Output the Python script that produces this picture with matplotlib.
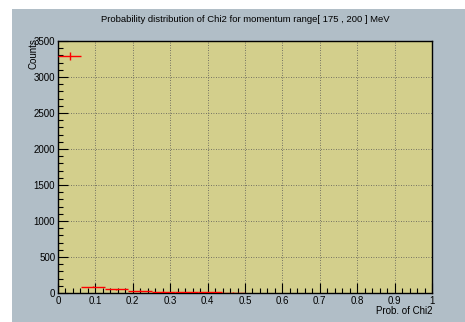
import numpy as np
import matplotlib
matplotlib.use("Agg")
import matplotlib.pyplot as plt
from matplotlib.patches import Rectangle
from matplotlib.ticker import MultipleLocator

plt.rcParams['font.family'] = ['Liberation Sans', 'DejaVu Sans']

# histogram: 16 bins on [0, 1]
bin_edges = np.linspace(0, 1, 17)
counts = [3290, 88, 52, 34, 20, 13, 9, 6, 0, 0, 0, 0, 0, 0, 0, 0]

TITLE = "Probability distribution of Chi2 for momentum range[ 175 , 200 ] MeV"
XLABEL = "Prob. of Chi2"
YLABEL = "Counts"

fig = plt.figure(figsize=(4.65, 3.22), dpi=100, facecolor='white')
# ROOT-like canvas background (behind the axes)
fig.patches.append(Rectangle((12 / 465, 0), 1 - 12 / 465, 1 - 9 / 322,
                             transform=fig.transFigure, facecolor='#b1bec7',
                             edgecolor='none', zorder=-10))

ax = fig.add_axes([58 / 465, 1 - 293 / 322, (432 - 58) / 465, (293 - 41) / 322])
ax.set_facecolor('#d3cf8c')

counts = np.asarray(counts, dtype=float)
centers = 0.5 * (bin_edges[:-1] + bin_edges[1:])
half = 0.5 * np.diff(bin_edges)
nz = counts > 0
ax.errorbar(centers[nz], counts[nz], xerr=half[nz], yerr=np.sqrt(counts[nz]),
            fmt='none', ecolor='red', elinewidth=1.0, capsize=0, zorder=3)

ax.set_xlim(0, 1)
ax.set_ylim(0, 3500)
ax.xaxis.set_major_locator(MultipleLocator(0.1))
ax.xaxis.set_minor_locator(MultipleLocator(0.02))
ax.yaxis.set_major_locator(MultipleLocator(500))
ax.yaxis.set_minor_locator(MultipleLocator(100))
ax.xaxis.set_major_formatter(plt.FuncFormatter(lambda v, p: f"{v:g}"))

ax.tick_params(which='both', direction='in', top=False, right=False,
               labelsize=7, colors='black', pad=2)
ax.tick_params(which='major', length=7, width=0.8)
ax.tick_params(which='minor', length=3.5, width=0.8)
ax.grid(True, which='major', linestyle=(0, (1, 2)), color='#555555', linewidth=0.6)
for s in ax.spines.values():
    s.set_linewidth(1.0)
    s.set_color('black')

fig.text(245 / 465, 1 - 20 / 322, TITLE, ha='center', va='center', fontsize=6.8)
fig.text(432 / 465, 1 - 311 / 322, XLABEL, ha='right', va='center', fontsize=7)
fig.text(33 / 465, 1 - 38 / 322, YLABEL, ha='center', va='top', rotation=90,
         fontsize=7)

fig.savefig("out.png", dpi=100, facecolor=fig.get_facecolor())
